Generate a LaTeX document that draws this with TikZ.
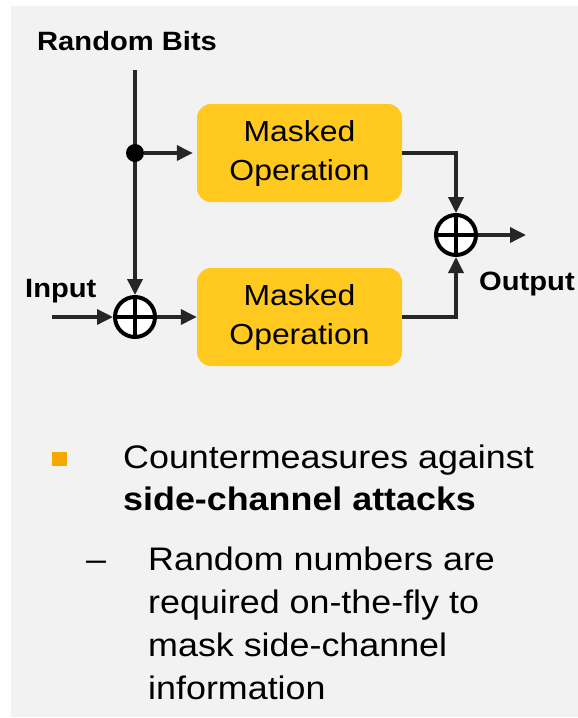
\documentclass[tikz,border=0pt]{standalone}
\usepackage{fontspec}
\setmainfont{Liberation Sans}[FakeStretch=1.1]
\usetikzlibrary{arrows.meta}
\definecolor{bgcol}{HTML}{F2F2F2}
\definecolor{boxyellow}{HTML}{FFC91F}
\definecolor{bulletorange}{HTML}{F5A800}
\definecolor{wirecol}{HTML}{262626}
\begin{document}
\begin{tikzpicture}[x=1pt,y=-1pt,
  wirearrow/.style={draw=wirecol,line width=3.5pt,-{Triangle[length=16pt,width=15pt]}},
  opbox/.style={rectangle,rounded corners=14pt,fill=boxyellow,minimum width=205pt,minimum height=98pt,inner sep=0pt,align=center,font=\fontsize{29}{39}\selectfont},
  xorc/.style={circle,draw=black,fill=white,line width=4pt,minimum size=40pt,inner sep=0pt},
  lbl/.style={inner sep=0pt,anchor=base west,font=\bfseries\fontsize{26.5}{30}\selectfont},
  bodytext/.style={inner sep=0pt,anchor=base west,font=\fontsize{32.6}{42}\selectfont},
  boldtext/.style={inner sep=0pt,anchor=base west,font=\bfseries\fontsize{32.6}{42}\selectfont}
]
\useasboundingbox (0,0) rectangle (578,718);
\fill[bgcol] (11,6) rectangle (578,717);

% nodes
\node[opbox] (topop) at (299.5,153) {Masked\\Operation};
\node[opbox] (botop) at (299.5,317) {Masked\\Operation};
\node[xorc] (xor1) at (135,317) {};
\node[xorc] (xor2) at (456,235) {};
\coordinate (rb) at (135,70);
\coordinate (inp) at (52,317);
\coordinate (outp) at (526,235);

% connectors
\draw[wirearrow] (rb) -- (xor1);
\node[circle,fill=black,minimum size=18pt,inner sep=0pt] (dot) at (135,153) {};
\draw[wirearrow,shorten >=4pt] (dot) -- (topop);
\draw[wirearrow] (inp) -- (xor1);
\draw[wirearrow] (xor1) -- (botop);
\draw[wirearrow] (topop.east) -| (xor2.north);
\draw[wirearrow] (botop.east) -| (xor2.south);
\draw[wirearrow] (xor2) -- (outp);

% xor crosses
\foreach \n in {xor1,xor2}{
  \draw[black,line width=3.5pt] (\n.north) -- (\n.south);
  \draw[black,line width=3.5pt] (\n.west) -- (\n.east);
}

% labels
\node[lbl] (lrb) at (37,50) {Random Bits};
\node[lbl] (lin) at (25,297) {Input};
\node[lbl] (lout) at (479,290) {Output};

% bullet text
\fill[bulletorange] (52,452) rectangle (67,466);
\node[bodytext] (b1) at (123,468) {Countermeasures against};
\node[boldtext] (b2) at (123,510) {side-channel attacks};
\node[bodytext] (dash) at (86,570) {–};
\node[bodytext] (s1) at (148,570) {Random numbers are};
\node[bodytext] (s2) at (148,613) {required on-the-fly to};
\node[bodytext] (s3) at (148,656) {mask side-channel};
\node[bodytext] (s4) at (148,699) {information};
\end{tikzpicture}
\end{document}
